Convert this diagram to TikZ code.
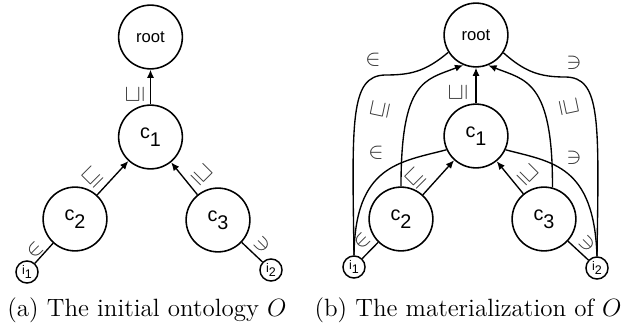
\documentclass[tikz,border=0pt]{standalone}
\usepackage{fontspec}
\newfontfamily\nodefont{Liberation Sans}
\usetikzlibrary{arrows.meta}
\begin{document}
\begin{tikzpicture}[x=0.48pt,y=-0.48pt,
  bignode/.style={circle,draw,line width=0.75pt,minimum size=30.6pt,inner sep=0pt},
  cfont/.style={font=\nodefont\fontsize{9.5}{10}\selectfont},
  rfont/.style={font=\nodefont\fontsize{8}{9}\selectfont},
  smallnode/.style={circle,draw,line width=0.7pt,minimum size=10.6pt,inner sep=0pt,font=\nodefont\fontsize{6}{7}\selectfont},
  edgeline/.style={line width=0.65pt},
  arr/.style={edgeline,-{Latex[length=4pt,width=3.4pt]}},
  lab/.style={inner sep=0pt,text=black!80,font=\fontsize{11}{11}\selectfont},
  capt/.style={anchor=base west,inner sep=0pt,font=\fontsize{12}{14}\selectfont}]
\useasboundingbox (0,0) rectangle (629,333);
% ---------- (a) ----------
\node[bignode,rfont] (ra) at (150.5,37) {root};
\node[bignode,cfont] (c1a) at (150.5,137) {c\raisebox{-3.8pt}{1}};
\node[bignode,cfont] (c2a) at (75,219) {c\raisebox{-3.8pt}{2}};
\node[bignode,cfont] (c3a) at (218,220) {c\raisebox{-3.8pt}{3}};
\node[smallnode] (i1a) at (27,272) {i\raisebox{-1.5pt}{1}};
\node[smallnode] (i2a) at (271,270) {i\raisebox{-1.5pt}{2}};
\draw[arr] (c1a) -- (ra);
\draw[arr] (c2a) -- (c1a);
\draw[arr] (c3a) -- (c1a);
\draw[edgeline] (i1a) -- (c2a);
\draw[edgeline] (i2a) -- (c3a);
\node[lab,rotate=90] (la1) at (135,95) {$\sqsubseteq$};
\node[lab,rotate=45] (la2) at (92,177) {$\sqsubseteq$};
\node[lab,rotate=-45] (la3) at (202,175) {$\sqsupseteq$};
\node[lab,rotate=45] (la4) at (35,250) {$\in$};
\node[lab,rotate=-45] (la5) at (262,245) {$\ni$};
% ---------- (b) ----------
\node[bignode,rfont] (rb) at (476,35) {root};
\node[bignode,cfont] (c1b) at (476,136) {c\raisebox{-3.8pt}{1}};
\node[bignode,cfont] (c2b) at (401,219) {c\raisebox{-3.8pt}{2}};
\node[bignode,cfont] (c3b) at (544,219) {c\raisebox{-3.8pt}{3}};
\node[smallnode] (i1b) at (354,267) {i\raisebox{-1.5pt}{1}};
\node[smallnode] (i2b) at (597,268) {i\raisebox{-1.5pt}{2}};
\draw[arr] (c1b) -- (rb);
\draw[arr] (c2b) -- (c1b);
\draw[arr] (c3b) -- (c1b);
\draw[edgeline] (i1b) -- (c2b);
\draw[edgeline] (i2b) -- (c3b);
\draw[arr] (c2b.north) .. controls (401,80) and (425,80) .. (rb.247);
\draw[arr] (c3b.75) .. controls (553,80) and (525,80) .. (rb.292);
\draw[edgeline] (i1b.north) .. controls (352,120) and (350,76) .. (385,75) .. controls (410,75) and (425,72) .. (rb.212);
\draw[edgeline] (i2b.north) .. controls (599,120) and (601,77) .. (565,77) .. controls (540,77) and (525,72) .. (rb.327);
\draw[edgeline] (i1b.north) .. controls (355,165) and (400,162) .. (c1b.205);
\draw[edgeline] (i2b.north) .. controls (594,165) and (552,162) .. (c1b.335);
\node[lab,rotate=90] (lb1) at (458,93) {$\sqsubseteq$};
\node[lab,rotate=45] (lb2) at (415,178) {$\sqsubseteq$};
\node[lab,rotate=-45] (lb3) at (528,175) {$\sqsupseteq$};
\node[lab,rotate=78] (lb4) at (380,110) {$\sqsubseteq$};
\node[lab,rotate=-78] (lb5) at (569,107) {$\sqsupseteq$};
\node[lab] (lb6) at (373,60) {$\in$};
\node[lab] (lb7) at (376,153) {$\in$};
\node[lab] (lb8) at (574,63) {$\ni$};
\node[lab] (lb9) at (574,158) {$\ni$};
\node[lab,rotate=45] (lb10) at (362,241) {$\in$};
\node[lab,rotate=-45] (lb11) at (587,244) {$\ni$};
% ---------- captions ----------
\node[capt] (capa) at (7,316) {(a) The initial ontology $O$};
\node[capt,anchor=base east] (capb) at (622,316) {(b) The materialization of $O$};
\end{tikzpicture}
\end{document}
